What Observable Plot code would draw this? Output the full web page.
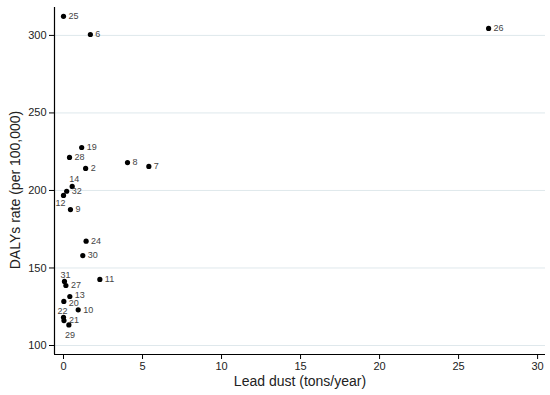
<!DOCTYPE html>
<html>
<head>
<meta charset="utf-8">
<script src="https://cdn.jsdelivr.net/npm/d3@7"></script>
<script src="https://cdn.jsdelivr.net/npm/@observablehq/plot@0.6"></script>
<style>
  html, body { margin: 0; padding: 0; background: #fff; }
  #chart { width: 550px; height: 395px; }
</style>
</head>
<body>
<div id="chart"></div>
<script>
const labels = ["25","6","26","19","28","2","8","7","14","32","12","9","24","30","31","27","11","13","20","10","22","21","29"];
const leadDust = [0.0, 1.7, 26.9, 1.15, 0.38, 1.4, 4.05, 5.4, 0.55, 0.2, 0.0, 0.44, 1.43, 1.22, 0.06, 0.15, 2.3, 0.4, 0.02, 0.93, 0.0, 0.03, 0.34];
const dalys = [312.3, 300.6, 304.5, 227.7, 221.3, 214.2, 218.0, 215.5, 202.6, 199.5, 196.8, 187.7, 167.3, 158.0, 141.3, 138.7, 142.6, 131.6, 128.4, 123.0, 118.2, 116.1, 113.3];
const xTicks = [0, 5, 10, 15, 20, 25, 30];
const yTicks = [100, 150, 200, 250, 300];

const data = labels.map((l, i) => ({label: l, x: leadDust[i], y: dalys[i]}));

const xDomain = [-0.57, 30.5];
const yDomain = [94.2, 318];

// label placement (style, not data)
const place = {
  "14": {dx: 2, dy: -7, anchor: "middle"},
  "12": {dx: -3, dy: 8, anchor: "middle"},
  "22": {dx: -1, dy: -6, anchor: "middle"},
  "31": {dx: 1, dy: -6, anchor: "middle"},
  "29": {dx: 1, dy: 10, anchor: "middle"},
  "13": {dx: 5, dy: -1, anchor: "start"},
  "20": {dx: 5, dy: 2, anchor: "start"}
};
const isRight = d => !place[d.label];
const groups = Object.keys(place);

const font = "Liberation Sans, Arial, sans-serif";

const marks = [
  Plot.gridY(yTicks, {stroke: "#dfe8ec", strokeOpacity: 1, strokeWidth: 1}),
  Plot.ruleX([xDomain[0]], {stroke: "#000", strokeWidth: 1.2}),
  Plot.ruleY([yDomain[0]], {stroke: "#000", strokeWidth: 1.2}),
  Plot.axisX(xTicks, {tickSize: 5, tickPadding: 3, fontSize: 11, label: null, fill: "#222", stroke: "#000"}),
  Plot.axisY(yTicks, {tickSize: 5, tickPadding: 3, fontSize: 11, label: null, fill: "#222", stroke: "#000"}),
  Plot.dot(data, {x: "x", y: "y", r: 2.6, fill: "#000", stroke: "none"}),
  Plot.text(data.filter(isRight), {x: "x", y: "y", text: "label", dx: 5, textAnchor: "start", fontSize: 9, fill: "#444", fontFamily: font})
];
for (const k of groups) {
  const p = place[k];
  marks.push(Plot.text(data.filter(d => d.label === k), {x: "x", y: "y", text: "label", dx: p.dx, dy: p.dy, textAnchor: p.anchor, fontSize: 9, fill: "#444", fontFamily: font}));
}

const chart = Plot.plot({
  width: 550,
  height: 395,
  marginLeft: 54,
  marginTop: 7,
  marginBottom: 41,
  marginRight: 5,
  style: {fontFamily: font, background: "#fff", color: "#111"},
  x: {domain: xDomain},
  y: {domain: yDomain},
  marks
});

// axis titles as SVG text
const svg = d3.select(chart);
svg.append("text")
  .attr("x", 300).attr("y", 386)
  .attr("text-anchor", "middle")
  .attr("font-family", font).attr("font-size", 14).attr("fill", "#222")
  .text("Lead dust (tons/year)");
svg.append("text")
  .attr("transform", "translate(20,190) rotate(-90)")
  .attr("text-anchor", "middle")
  .attr("font-family", font).attr("font-size", 14).attr("fill", "#222")
  .text("DALYs rate (per 100,000)");

document.getElementById("chart").appendChild(chart);
</script>
</body>
</html>
